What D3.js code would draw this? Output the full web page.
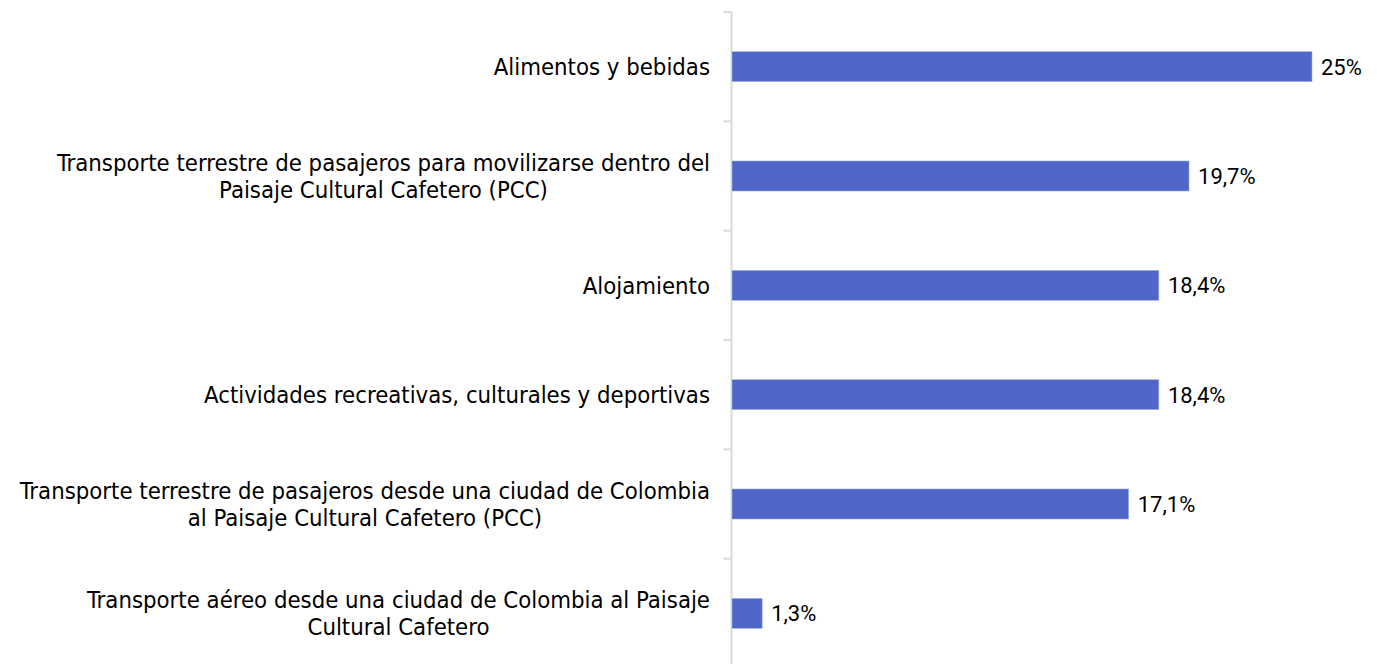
<!DOCTYPE html>
<html><head><meta charset="utf-8">
<script src="https://cdn.jsdelivr.net/npm/d3@7"></script>
<style>body{margin:0;background:#fff}svg{display:block}text{fill:#000}
.cat{font-family:"DejaVu Sans Condensed","DejaVu Sans",sans-serif;font-stretch:condensed}
.val{font-family:Roboto,"Liberation Sans",sans-serif}</style>
</head><body><svg id="c" width="1377" height="664"></svg>
<script>
const categories = [
  ["Alimentos y bebidas"],
  ["Transporte terrestre de pasajeros para movilizarse dentro del","Paisaje Cultural Cafetero (PCC)"],
  ["Alojamiento"],
  ["Actividades recreativas, culturales y deportivas"],
  ["Transporte terrestre de pasajeros desde una ciudad de Colombia","al Paisaje Cultural Cafetero (PCC)"],
  ["Transporte aéreo desde una ciudad de Colombia al Paisaje","Cultural Cafetero"]
];
const values = [25, 19.7, 18.4, 18.4, 17.1, 1.3];
const valueLabels = ["25%","19,7%","18,4%","18,4%","17,1%","1,3%"];

const svg = d3.select("#c");
const x0 = 732;
const x = d3.scaleLinear().domain([0, 25]).range([x0, 1312]);
const y = d3.scaleBand().domain(d3.range(values.length)).range([12, 668]).paddingInner(0.725).paddingOuter(0.3625);

const axisG = svg.append("g").attr("transform", `translate(${x0 - 0.5},0)`);
axisG.append("line").attr("y1", 12).attr("y2", 664).attr("stroke", "#d9d9d9").attr("stroke-width", 2);
const step = y.step();
d3.range(values.length).forEach(i => {
  const ty = 12 + i * step;
  axisG.append("line").attr("x1", -8).attr("x2", 0).attr("y1", ty).attr("y2", ty).attr("stroke", "#d9d9d9").attr("stroke-width", 2);
});

svg.selectAll("rect.bar").data(values).join("rect").attr("class","bar")
  .attr("x", x0).attr("y", (d,i) => y(i)).attr("width", d => x(d) - x0).attr("height", y.bandwidth())
  .attr("fill", "#4e67c8").attr("stroke", "#a9b6e6").attr("stroke-width", 0.6);

svg.selectAll("text.val").data(values).join("text").attr("class","val")
  .attr("x", d => x(d) + 9).attr("y", (d,i) => y(i) + y.bandwidth()/2).attr("dy", "0.36em")
  .attr("font-size", 22).text((d,i) => valueLabels[i]);

const fs = 23.7, lh = 27, right = 710;
categories.forEach((lines, i) => {
  const cy = y(i) + y.bandwidth()/2;
  const g = svg.append("g");
  const ts = lines.map((l, j) => g.append("text").attr("class","cat").attr("font-size", fs)
    .attr("y", cy + (j - (lines.length - 1)/2) * lh).attr("dy","0.36em").text(l));
  const w = d3.max(ts, t => t.node().getComputedTextLength());
  ts.forEach(t => t.attr("text-anchor","middle").attr("x", right - w/2));
});
</script></body></html>
